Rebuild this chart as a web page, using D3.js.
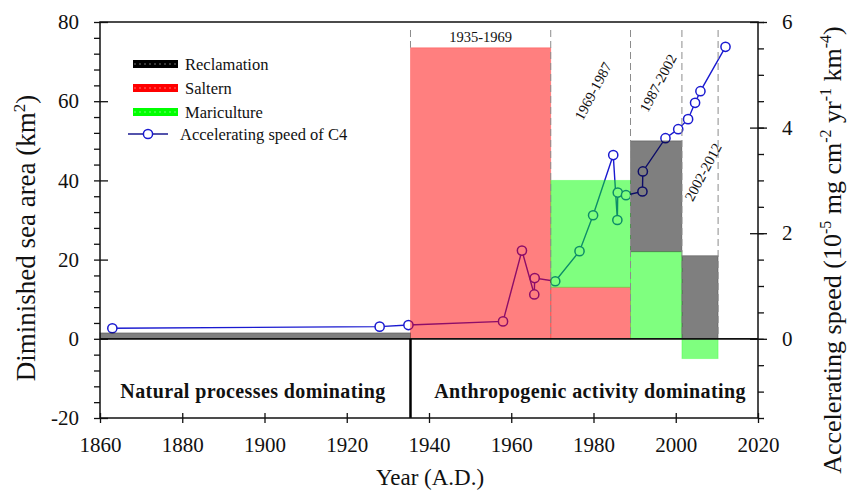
<!DOCTYPE html>
<html>
<head>
<meta charset="utf-8">
<script src="https://cdn.jsdelivr.net/npm/d3@7/dist/d3.min.js"></script>
<style>
  body { margin: 0; background: #fff; }
  svg text { fill: #111; }
</style>
</head>
<body>
<div id="chart"></div>
<script>
// periods of land use (years) and the area lost in each (km2)
var periodStart = [1860, 1935.5, 1969.6, 1989, 2001.5];
var periodEnd = [1935.5, 1969.6, 1989, 2001.5, 2010.3];
var periodLabels = ['', '1935-1969', '1969-1987', '1987-2002', '2002-2012'];
var reclamation = [1.5, 0, 0, 28, 21];
var saltern = [0, 73.5, 13, 0, 0];
var mariculture = [0, 0, 27, 22, -5];

// accelerating speed of C4 (right axis)
var years = [1863, 1928, 1935, 1958, 1962.6, 1965.6, 1965.7, 1970.7, 1976.6, 1979.9, 1984.8,
  1985.8, 1985.9, 1987.9, 1991.9, 1992, 1997.5, 2000.6, 2003, 2004.7, 2006, 2012.1];
var speed = [0.2, 0.23, 0.26, 0.33, 1.67, 0.84, 1.15, 1.09, 1.66, 2.34, 3.48,
  2.25, 2.77, 2.72, 2.79, 3.17, 3.80, 3.97, 4.16, 4.47, 4.69, 5.53];

var xTicks = [1860, 1880, 1900, 1920, 1940, 1960, 1980, 2000, 2020];
var yLeftTicks = [-20, 0, 20, 40, 60, 80];
var yRightTicks = [0, 2, 4, 6];

var W = 853, H = 491;
var FONT = '"Liberation Serif", "Times New Roman", Times, serif';
var svg = d3.select('#chart').append('svg').attr('width', W).attr('height', H)
  .attr('font-family', FONT);

var x = d3.scaleLinear().domain([1860, 2020]).range([100, 758]);
var yL = d3.scaleLinear().domain([-20, 80]).range([418, 22]);
var yR = d3.scaleLinear().domain([-1.5, 6]).range([418, 22]);

var colors = {reclamation: '#000000', saltern: '#ff0000', mariculture: '#00ff00'};
var plain = function(d) { return String(d); };  // hyphen minus like the original

// line first, bars go over it half transparent
var pts = years.map(function(y, i) { return {x: y, v: speed[i]}; });
var line = d3.line().x(function(d) { return x(d.x); }).y(function(d) { return yR(d.v); });
svg.append('path').datum(pts).attr('d', line)
  .attr('fill', 'none').attr('stroke', '#1a1ad0').attr('stroke-width', 1.4);
svg.selectAll('.pt').data(pts).enter().append('circle')
  .attr('cx', function(d) { return x(d.x); })
  .attr('cy', function(d) { return yR(d.v); })
  .attr('r', 4.6).attr('fill', '#fff').attr('stroke', '#1a1ad0').attr('stroke-width', 1.5);

// stacked bars
var rows = periodStart.map(function(s, i) {
  return {s: s, e: periodEnd[i], reclamation: reclamation[i], saltern: saltern[i], mariculture: mariculture[i]};
});
var stack = d3.stack().keys(['saltern', 'mariculture', 'reclamation']).offset(d3.stackOffsetDiverging);
var layers = stack(rows);
layers.forEach(function(layer) {
  svg.append('g').selectAll('rect').data(layer.filter(function(d) { return d[1] !== d[0]; }))
    .enter().append('rect')
    .attr('x', function(d) { return x(d.data.s); })
    .attr('width', function(d) { return x(d.data.e) - x(d.data.s); })
    .attr('y', function(d) { return yL(Math.max(d[0], d[1])); })
    .attr('height', function(d) { return Math.abs(yL(d[0]) - yL(d[1])); })
    .attr('fill', colors[layer.key]).attr('fill-opacity', 0.5)
    .attr('stroke', colors[layer.key]).attr('stroke-opacity', 0.25);
});

// dashed period boundaries
var bounds = periodEnd.slice(0);
bounds[0] = 1935.5;
svg.selectAll('.dash').data(bounds).enter().append('line')
  .attr('x1', function(d) { return x(d); }).attr('x2', function(d) { return x(d); })
  .attr('y1', 30).attr('y2', function(d) { return d === 1935.5 ? yL(73.5) : yL(0); })
  .attr('stroke', '#8c8c8c').attr('stroke-width', 1).attr('stroke-dasharray', '7,4');

// period labels
svg.append('text').attr('x', (x(periodStart[1]) + x(periodEnd[1])) / 2).attr('y', 42)
  .attr('text-anchor', 'middle').attr('font-size', 14.5).text(periodLabels[1]);
var rotPos = [null, null, [593, 91], [658, 83], [703, 172]];
[2, 3, 4].forEach(function(i) {
  svg.append('text').attr('transform', 'translate(' + rotPos[i][0] + ',' + rotPos[i][1] + ') rotate(-62)')
    .attr('text-anchor', 'middle').attr('dy', '0.35em').attr('font-size', 14.5).text(periodLabels[i]);
});

// zero line and process split
svg.append('line').attr('x1', 100).attr('x2', 758).attr('y1', yL(0)).attr('y2', yL(0))
  .attr('stroke', '#111').attr('stroke-width', 1.8);
svg.append('line').attr('x1', x(1935.5)).attr('x2', x(1935.5)).attr('y1', yL(0)).attr('y2', 418)
  .attr('stroke', '#000').attr('stroke-width', 2.5);
svg.append('text').attr('x', 253).attr('y', 398).attr('text-anchor', 'middle')
  .attr('font-weight', 'bold').attr('font-size', 20).attr('letter-spacing', 0.4)
  .text('Natural processes dominating');
svg.append('text').attr('x', 590).attr('y', 398).attr('text-anchor', 'middle')
  .attr('font-weight', 'bold').attr('font-size', 20).attr('letter-spacing', 0.4)
  .text('Anthropogenic activity dominating');

// axes
var axisStroke = function(g) {
  g.select('.domain').remove();
  g.selectAll('line').attr('stroke', '#111').attr('stroke-width', 1.3);
  g.selectAll('text').attr('font-size', 21).attr('fill', '#111').attr('font-family', FONT);
};
// frame
svg.append('rect').attr('x', 100).attr('y', 22).attr('width', 658).attr('height', 396)
  .attr('fill', 'none').attr('stroke', '#111').attr('stroke-width', 1.5);

svg.append('g').attr('transform', 'translate(0,418)')
  .call(d3.axisBottom(x).tickValues(xTicks).tickFormat(plain).tickSize(5).tickPadding(14))
  .call(axisStroke)
  .call(function(g) { g.selectAll('.tick line').attr('y1', -5); });

svg.append('g').attr('transform', 'translate(100,0)')
  .call(d3.axisLeft(yL).tickValues(d3.range(-20, 81, 4)).tickSize(6).tickFormat(''))
  .call(axisStroke);
svg.append('g').attr('transform', 'translate(100,0)')
  .call(d3.axisLeft(yL).tickValues(yLeftTicks).tickFormat(plain).tickSize(7).tickPadding(14))
  .call(axisStroke)
  .call(function(g) { g.selectAll('.tick line').attr('x2', 8); });

svg.append('g').attr('transform', 'translate(758,0)')
  .call(d3.axisRight(yR).tickValues(d3.range(-1.5, 6.01, 0.5)).tickSize(6).tickFormat(''))
  .call(axisStroke);
svg.append('g').attr('transform', 'translate(758,0)')
  .call(d3.axisRight(yR).tickValues(yRightTicks).tickFormat(plain).tickSize(8).tickPadding(16))
  .call(axisStroke)
  .call(function(g) { g.selectAll('.tick line').attr('x2', 9).attr('x1', -8); });

// axis titles
svg.append('text').attr('x', 430).attr('y', 485).attr('text-anchor', 'middle')
  .attr('font-size', 23).text('Year (A.D.)');
var lt = svg.append('text').attr('transform', 'translate(35,238) rotate(-90)')
  .attr('text-anchor', 'middle').attr('font-size', 27);
lt.append('tspan').text('Diminished sea area (km');
lt.append('tspan').attr('dy', -10).attr('font-size', 17).text('2');
lt.append('tspan').attr('dy', 10).text(')');

var rt = svg.append('text').attr('transform', 'translate(841,250) rotate(-90)')
  .attr('text-anchor', 'middle').attr('font-size', 26);
rt.append('tspan').text('Accelerating speed (10');
rt.append('tspan').attr('dy', -10).attr('font-size', 16).text('-5');
rt.append('tspan').attr('dy', 10).text(' mg cm');
rt.append('tspan').attr('dy', -10).attr('font-size', 16).text('-2');
rt.append('tspan').attr('dy', 10).text(' yr');
rt.append('tspan').attr('dy', -10).attr('font-size', 16).text('-1');
rt.append('tspan').attr('dy', 10).text(' km');
rt.append('tspan').attr('dy', -10).attr('font-size', 16).text('-4');
rt.append('tspan').attr('dy', 10).text(')');

// legend
var legendItems = ['Reclamation', 'Saltern', 'Mariculture'];
var legendKeys = ['reclamation', 'saltern', 'mariculture'];
legendItems.forEach(function(name, i) {
  var cy = 64 + i * 24;
  svg.append('rect').attr('x', 133).attr('y', cy - 4).attr('width', 45).attr('height', 8)
    .attr('fill', colors[legendKeys[i]]);
  svg.append('line').attr('x1', 134).attr('x2', 178).attr('y1', cy).attr('y2', cy)
    .attr('stroke', '#fff').attr('stroke-opacity', 0.45).attr('stroke-dasharray', '2,3');
  svg.append('text').attr('x', 185).attr('y', cy).attr('dy', '0.35em')
    .attr('font-size', 16.5).text(name);
});
svg.append('line').attr('x1', 128).attr('x2', 168).attr('y1', 134).attr('y2', 134)
  .attr('stroke', '#1a1a90').attr('stroke-width', 1.4);
svg.append('circle').attr('cx', 148).attr('cy', 134).attr('r', 4.6)
  .attr('fill', '#fff').attr('stroke', '#1a1ad0').attr('stroke-width', 1.5);
svg.append('text').attr('x', 180).attr('y', 134).attr('dy', '0.35em')
  .attr('font-size', 16.5).text('Accelerating speed of C4');
</script>
</body>
</html>
